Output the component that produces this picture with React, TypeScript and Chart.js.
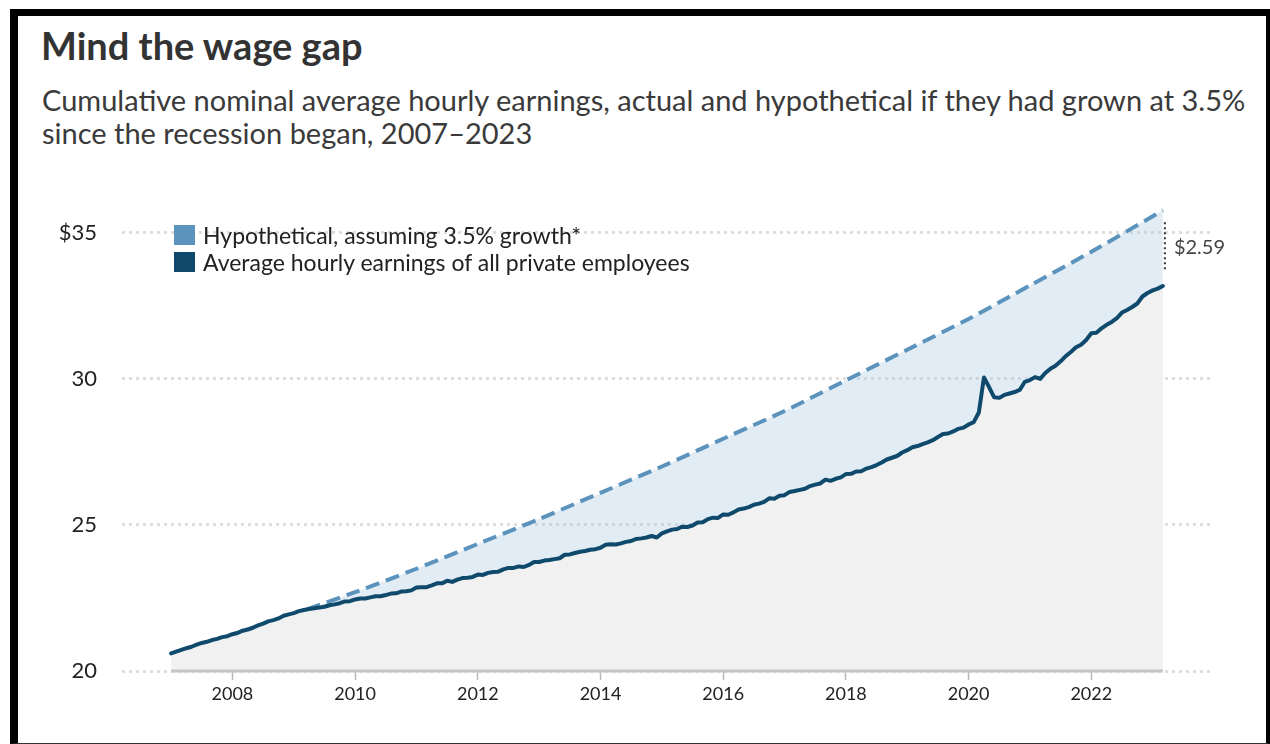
import React, { useEffect, useRef } from "react";
import { Chart, registerables } from "chart.js";

Chart.register(...registerables);

const TITLE = "Mind the wage gap";
const SUBTITLE_1 =
  "Cumulative nominal average hourly earnings, actual and hypothetical if they had grown at 3.5%";
const SUBTITLE_2 = "since the recession began, 2007\u20132023";
const LEGEND_HYP = "Hypothetical, assuming 3.5% growth*";
const LEGEND_ACT = "Average hourly earnings of all private employees";

const FONT = "Lato, 'Liberation Sans', sans-serif";
const HYP_COLOR = "#5b93bc";
const ACT_COLOR = "#0f4a6d";

// Monthly average hourly earnings, Jan 2007 - Mar 2023
const ACTUAL_START_YEAR = 2007;
const actual2007 = [20.6, 20.66, 20.72, 20.78, 20.83, 20.9, 20.96, 21.0, 21.06, 21.1, 21.16, 21.19];
const actual2008 = [21.26, 21.3, 21.38, 21.42, 21.48, 21.56, 21.62, 21.7, 21.74, 21.8, 21.89, 21.94];
const actual2009 = [21.98, 22.05, 22.09, 22.12, 22.15, 22.17, 22.2, 22.25, 22.28, 22.32, 22.38, 22.39];
const actual2010 = [22.45, 22.48, 22.48, 22.52, 22.56, 22.56, 22.6, 22.65, 22.66, 22.72, 22.73, 22.76];
const actual2011 = [22.86, 22.87, 22.87, 22.93, 23.0, 23.0, 23.09, 23.05, 23.13, 23.18, 23.19, 23.22];
const actual2012 = [23.3, 23.29, 23.36, 23.39, 23.4, 23.48, 23.53, 23.53, 23.58, 23.56, 23.63, 23.73];
const actual2013 = [23.73, 23.78, 23.8, 23.83, 23.86, 23.98, 23.99, 24.04, 24.08, 24.11, 24.15, 24.17];
const actual2014 = [24.22, 24.32, 24.34, 24.33, 24.37, 24.42, 24.45, 24.52, 24.54, 24.57, 24.62, 24.57];
const actual2015 = [24.71, 24.78, 24.84, 24.86, 24.94, 24.93, 24.98, 25.08, 25.09, 25.2, 25.25, 25.24];
const actual2016 = [25.36, 25.35, 25.43, 25.53, 25.56, 25.61, 25.69, 25.73, 25.79, 25.91, 25.9, 26.0];
const actual2017 = [26.02, 26.13, 26.16, 26.2, 26.24, 26.33, 26.38, 26.42, 26.55, 26.51, 26.58, 26.63];
const actual2018 = [26.74, 26.75, 26.83, 26.84, 26.93, 26.98, 27.05, 27.14, 27.24, 27.3, 27.36, 27.48];
const actual2019 = [27.56, 27.66, 27.7, 27.77, 27.83, 27.9, 28.01, 28.11, 28.13, 28.2, 28.29, 28.33];
const actual2020 = [28.44, 28.52, 28.85, 30.05, 29.72, 29.37, 29.35, 29.45, 29.5, 29.55, 29.62, 29.9];
const actual2021 = [29.96, 30.06, 30.0, 30.2, 30.35, 30.45, 30.6, 30.78, 30.92, 31.08, 31.17, 31.33];
const actual2022 = [31.56, 31.58, 31.73, 31.85, 31.95, 32.08, 32.27, 32.36, 32.46, 32.58, 32.82, 32.94];
const actual2023 = [33.03, 33.09, 33.18];

const actualMonthly = [
  ...actual2007, ...actual2008, ...actual2009, ...actual2010, ...actual2011,
  ...actual2012, ...actual2013, ...actual2014, ...actual2015, ...actual2016,
  ...actual2017, ...actual2018, ...actual2019, ...actual2020, ...actual2021,
  ...actual2022, ...actual2023,
];

// Hypothetical path (3.5% growth from Dec 2007)
const hypYears = [2007.917, 2009, 2010, 2011, 2012, 2013, 2014, 2015, 2016, 2017, 2018, 2019, 2020, 2021, 2022, 2023.167];
const hypValues = [21.19, 21.95, 22.7, 23.5, 24.35, 25.2, 26.1, 27.0, 27.95, 28.9, 29.95, 31.0, 32.05, 33.2, 34.35, 35.77];

const xTickYears = [2008, 2010, 2012, 2014, 2016, 2018, 2020, 2022];
const yTickValues = [20, 25, 30, 35];

const X_MIN = 2006.2;
const X_MAX = 2024.0;
const Y_MIN = 20;
const Y_MAX = 36.5;

const actualPoints = actualMonthly.map((v, i) => ({ x: ACTUAL_START_YEAR + i / 12, y: v }));
const hypPoints = hypYears.map((x, i) => ({ x, y: hypValues[i] }));

const gapPlugin = {
  id: "gapPlugin",
  afterDatasetsDraw(chart: any) {
    const { ctx, scales } = chart;
    const xs = scales.x;
    const ys = scales.y;
    const first = actualPoints[0];
    const last = actualPoints[actualPoints.length - 1];
    const hLast = hypPoints[hypPoints.length - 1];
    const yb = ys.getPixelForValue(Y_MIN);
    ctx.save();
    ctx.strokeStyle = "#c6c6c6";
    ctx.lineWidth = 3;
    ctx.beginPath();
    ctx.moveTo(xs.getPixelForValue(first.x), yb);
    ctx.lineTo(xs.getPixelForValue(last.x), yb);
    ctx.stroke();

    const px = xs.getPixelForValue(last.x) + 2;
    const yTop = ys.getPixelForValue(hLast.y) + 12;
    const yBot = ys.getPixelForValue(last.y) - 14;
    ctx.strokeStyle = "#333";
    ctx.lineWidth = 2;
    ctx.setLineDash([2, 3]);
    ctx.beginPath();
    ctx.moveTo(px, yTop);
    ctx.lineTo(px, yBot);
    ctx.stroke();
    ctx.setLineDash([]);
    ctx.fillStyle = "#444";
    ctx.font = `20px ${FONT}`;
    ctx.textAlign = "left";
    ctx.textBaseline = "middle";
    const gap = (hLast.y - last.y).toFixed(2);
    ctx.fillText(`$${gap}`, px + 9, (yTop + yBot) / 2);
    ctx.restore();
  },
};

function WageChart() {
  const ref = useRef<HTMLCanvasElement>(null);
  useEffect(() => {
    if (!ref.current) return;
    const chart = new Chart(ref.current, {
      type: "line",
      data: {
        datasets: [
          {
            label: LEGEND_ACT,
            data: actualPoints,
            borderColor: ACT_COLOR,
            borderWidth: 4,
            pointRadius: 0,
            tension: 0,
            fill: "start",
            backgroundColor: "#f1f1f1",
            borderCapStyle: "round",
            borderJoinStyle: "round",
          },
          {
            label: LEGEND_HYP,
            data: hypPoints,
            borderColor: HYP_COLOR,
            borderWidth: 4,
            borderDash: [14, 7],
            pointRadius: 0,
            tension: 0.2,
            fill: { target: 0 },
            backgroundColor: "rgba(172, 201, 224, 0.35)",
          },
        ],
      },
      options: {
        responsive: false,
        animation: false,
        devicePixelRatio: 1,
        layout: { padding: { top: 19, right: 51, bottom: 31, left: 0 } },
        plugins: { legend: { display: false }, tooltip: { enabled: false } },
        scales: {
          x: {
            type: "linear",
            min: X_MIN,
            max: X_MAX,
            afterBuildTicks: (s: any) => {
              s.ticks = xTickYears.map((v) => ({ value: v }));
            },
            afterFit: (s: any) => {
              s.height = 40;
              s.paddingLeft = 0;
              s.paddingRight = 0;
              s.paddingTop = 0;
              s.paddingBottom = 0;
            },
            ticks: {
              callback: (v: any) => String(v),
              font: { family: FONT, size: 18 },
              color: "#222",
              padding: 3,
              maxRotation: 0,
              autoSkip: false,
            },
            grid: {
              display: true,
              drawOnChartArea: false,
              drawTicks: true,
              tickLength: 9,
              tickColor: "#b8b8b8",
              tickWidth: 1.5,
            },
            border: { display: false },
          },
          y: {
            type: "linear",
            min: Y_MIN,
            max: Y_MAX,
            afterBuildTicks: (s: any) => {
              s.ticks = yTickValues.map((v) => ({ value: v }));
            },
            afterFit: (s: any) => {
              s.width = 102;
              s.paddingTop = 0;
              s.paddingBottom = 0;
              s.paddingLeft = 0;
              s.paddingRight = 0;
            },
            ticks: {
              callback: (v: any) => (v === 35 ? "$35" : String(v)),
              font: { family: FONT, size: 22 },
              color: "#222",
              padding: 25,
            },
            grid: {
              color: "#dedede",
              lineWidth: 3,
              drawTicks: false,
            },
            border: { display: false, dash: [3, 4] },
          },
        },
      },
      plugins: [gapPlugin],
    });
    return () => chart.destroy();
  }, []);
  return (
    <canvas
      ref={ref}
      width={1245}
      height={572}
      style={{ position: "absolute", left: 20, top: 170, width: 1245, height: 572 }}
    />
  );
}

export default function App() {
  return (
    <div
      style={{
        position: "absolute",
        left: 0,
        top: 0,
        width: 1270,
        height: 744,
        background: "#fff",
        overflow: "hidden",
        fontFamily: FONT,
        color: "#333",
      }}
    >
      <div
        style={{
          position: "absolute",
          left: 10,
          top: 9,
          width: 1260,
          height: 735,
          boxSizing: "border-box",
          borderLeft: "8px solid #000",
          borderTop: "7px solid #000",
          borderRight: "4px solid #000",
          borderBottom: "1px solid #333",
        }}
      />
      <div
        style={{
          position: "absolute",
          left: 41,
          top: 22,
          fontSize: 38,
          fontWeight: 700,
          lineHeight: "46px",
          whiteSpace: "nowrap",
          color: "#333",
        }}
      >
        {TITLE}
      </div>
      <div
        style={{
          position: "absolute",
          left: 42,
          top: 83,
          fontSize: 29,
          lineHeight: "33px",
          whiteSpace: "nowrap",
          color: "#3a3a3a",
        }}
      >
        <div>{SUBTITLE_1}</div>
        <div>{SUBTITLE_2}</div>
      </div>
      <WageChart />
      <div style={{ position: "absolute", left: 174, top: 221, fontSize: 23, color: "#222" }}>
        <div style={{ display: "flex", alignItems: "center", height: 27 }}>
          <div style={{ width: 21, height: 20, background: HYP_COLOR, marginRight: 8 }} />
          <span style={{ whiteSpace: "nowrap" }}>{LEGEND_HYP}</span>
        </div>
        <div style={{ display: "flex", alignItems: "center", height: 27 }}>
          <div style={{ width: 21, height: 20, background: ACT_COLOR, marginRight: 8 }} />
          <span style={{ whiteSpace: "nowrap" }}>{LEGEND_ACT}</span>
        </div>
      </div>
    </div>
  );
}
